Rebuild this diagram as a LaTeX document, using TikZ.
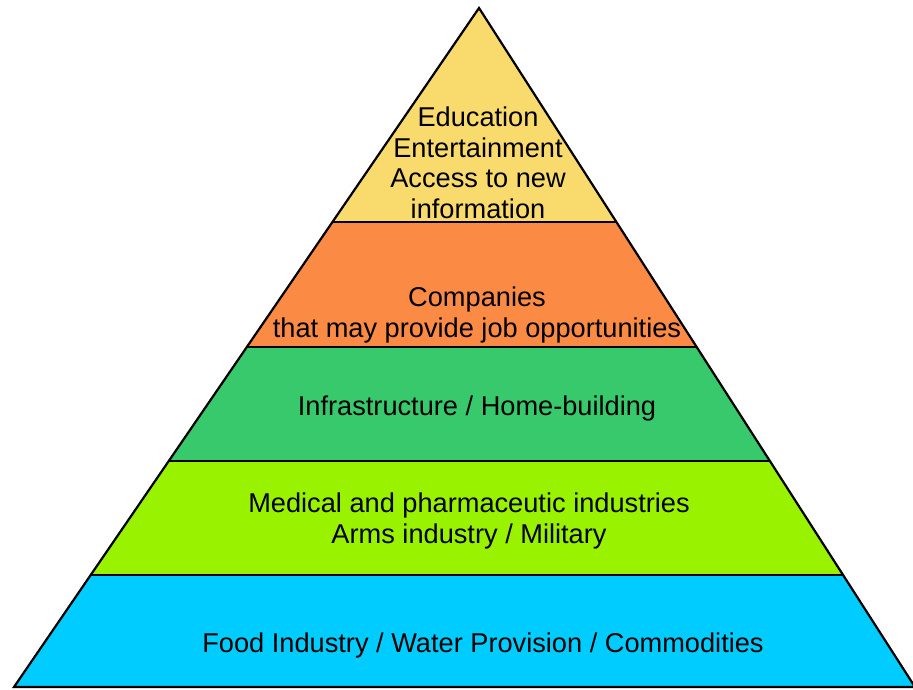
\documentclass[tikz,border=0pt]{standalone}
\usepackage{fontspec}
\setmainfont{Liberation Sans}
\usetikzlibrary{calc}
\definecolor{cyellow}{HTML}{F9DB6D}
\definecolor{corange}{HTML}{FB8A45}
\definecolor{cgreen}{HTML}{37C96B}
\definecolor{clime}{HTML}{99F200}
\definecolor{ccyan}{HTML}{00CCFF}
\begin{document}
\begin{tikzpicture}[x=1pt,y=-1pt,
  layer/.style={draw=black,line width=2.2pt,line join=miter},
  lbl/.style={align=center,font=\fontsize{27.2}{30.5}\selectfont,text=black,inner sep=0pt}]
\useasboundingbox (0,0) rectangle (913,689);
\coordinate (apex) at (479,8);
\coordinate (bl) at (14,687);
\coordinate (br) at (915,687);
% boundary fractions
\coordinate (l1) at ($(apex)!0.3152!(bl)$); \coordinate (r1) at ($(apex)!0.3152!(br)$);
\coordinate (l2) at ($(apex)!0.4993!(bl)$); \coordinate (r2) at ($(apex)!0.4993!(br)$);
\coordinate (l3) at ($(apex)!0.6672!(bl)$); \coordinate (r3) at ($(apex)!0.6672!(br)$);
\coordinate (l4) at ($(apex)!0.8351!(bl)$); \coordinate (r4) at ($(apex)!0.8351!(br)$);
\fill[ccyan] (l4) -- (r4) -- (br) -- (bl) -- cycle;
\fill[clime] (l3) -- (r3) -- (r4) -- (l4) -- cycle;
\fill[cgreen] (l2) -- (r2) -- (r3) -- (l3) -- cycle;
\fill[corange] (l1) -- (r1) -- (r2) -- (l2) -- cycle;
\fill[cyellow] (apex) -- (r1) -- (l1) -- cycle;
\draw[layer] (l1) -- (r1);
\draw[layer] (l2) -- (r2);
\draw[layer] (l3) -- (r3);
\draw[layer] (l4) -- (r4);
\draw[layer] (bl) -- (apex) -- (br) -- cycle;
\node[lbl] (t1) at (478,163) {Education\\Entertainment\\Access to new\\information};
\node[lbl] (t2) at (477,315) {Companies\\that may provide job opportunities};
\node[lbl] (t3) at (477,408) {Infrastructure / Home-building};
\node[lbl] (t4) at (469,521) {Medical and pharmaceutic industries\\Arms industry / Military};
\node[lbl] (t5) at (483,645) {Food Industry / Water Provision / Commodities};
\end{tikzpicture}
\end{document}
